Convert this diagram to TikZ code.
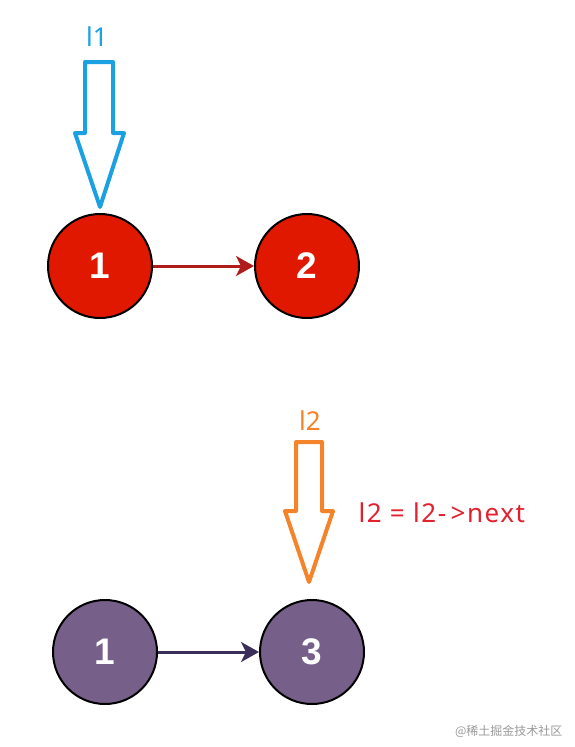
\documentclass[tikz,border=0pt]{standalone}
\usepackage{fontspec}
\setmainfont{Liberation Sans}
\newfontfamily\labelfont{Noto Sans}
\newfontfamily\notefont[LetterSpace=6]{Noto Sans}
\newfontfamily\cjk{Noto Sans CJK SC}
\usetikzlibrary{arrows.meta}

\definecolor{nodered}{RGB}{224,24,0}
\definecolor{linkred}{RGB}{176,28,28}
\definecolor{nodepurple}{RGB}{118,96,138}
\definecolor{linkpurple}{RGB}{60,46,90}
\definecolor{ptrblue}{RGB}{27,161,226}
\definecolor{ptrorange}{RGB}{245,131,42}
\definecolor{notered}{RGB}{226,32,46}

\begin{document}
\begin{tikzpicture}[x=1pt, y=-1pt,
  listnode/.style={circle, draw=black, line width=2pt, minimum size=104pt,
    inner sep=0pt, text=white, font=\bfseries\fontsize{37}{37}\selectfont},
  ptrarrow/.style={line width=4pt, line join=round},
  ptrlabel/.style={font=\labelfont\fontsize{26}{26}\selectfont},
  link/.style={line width=3pt, -{Stealth[length=18pt, width=20pt, inset=5pt]}}]

  \useasboundingbox (0,0) rectangle (575,747);

  % ---------------- before: l1 on the red list ----------------
  \node[listnode, fill=nodered] (r1) at (100,266) {1};
  \node[listnode, fill=nodered] (r2) at (307,266) {2};
  \draw[link, linkred] (r1) -- (r2);
  % hollow block arrow for l1
  \draw[ptrarrow, ptrblue] (85,62) -- (113,62) -- (113,133) -- (124,133)
    -- (100,207) -- (75,133) -- (85,133) -- cycle;
  \node[ptrlabel, text=ptrblue] (l1) at (97,37) {l1};

  % ---------------- after: l2 moved to the next node ----------------
  \node[listnode, fill=nodepurple] (p1) at (105,652) {1};
  \node[listnode, fill=nodepurple] (p3) at (312,652) {3};
  \draw[link, linkpurple] (p1) -- (p3);
  % hollow block arrow for l2
  \draw[ptrarrow, ptrorange] (296,442) -- (322,442) -- (322,511) -- (333,511)
    -- (309,582) -- (285,511) -- (296,511) -- cycle;
  \node[ptrlabel, text=ptrorange] (l2) at (310,421) {l2};
  \node[font=\notefont\fontsize{26}{26}\selectfont, text=notered, anchor=west] (step) at (355,513) {l2 = l2-\,>next};

  % watermark
  \node[anchor=east, text=black!40, font=\cjk\fontsize{12}{12}\selectfont] (mark) at (566,731) {@稀土掘金技术社区};

\end{tikzpicture}
\end{document}
